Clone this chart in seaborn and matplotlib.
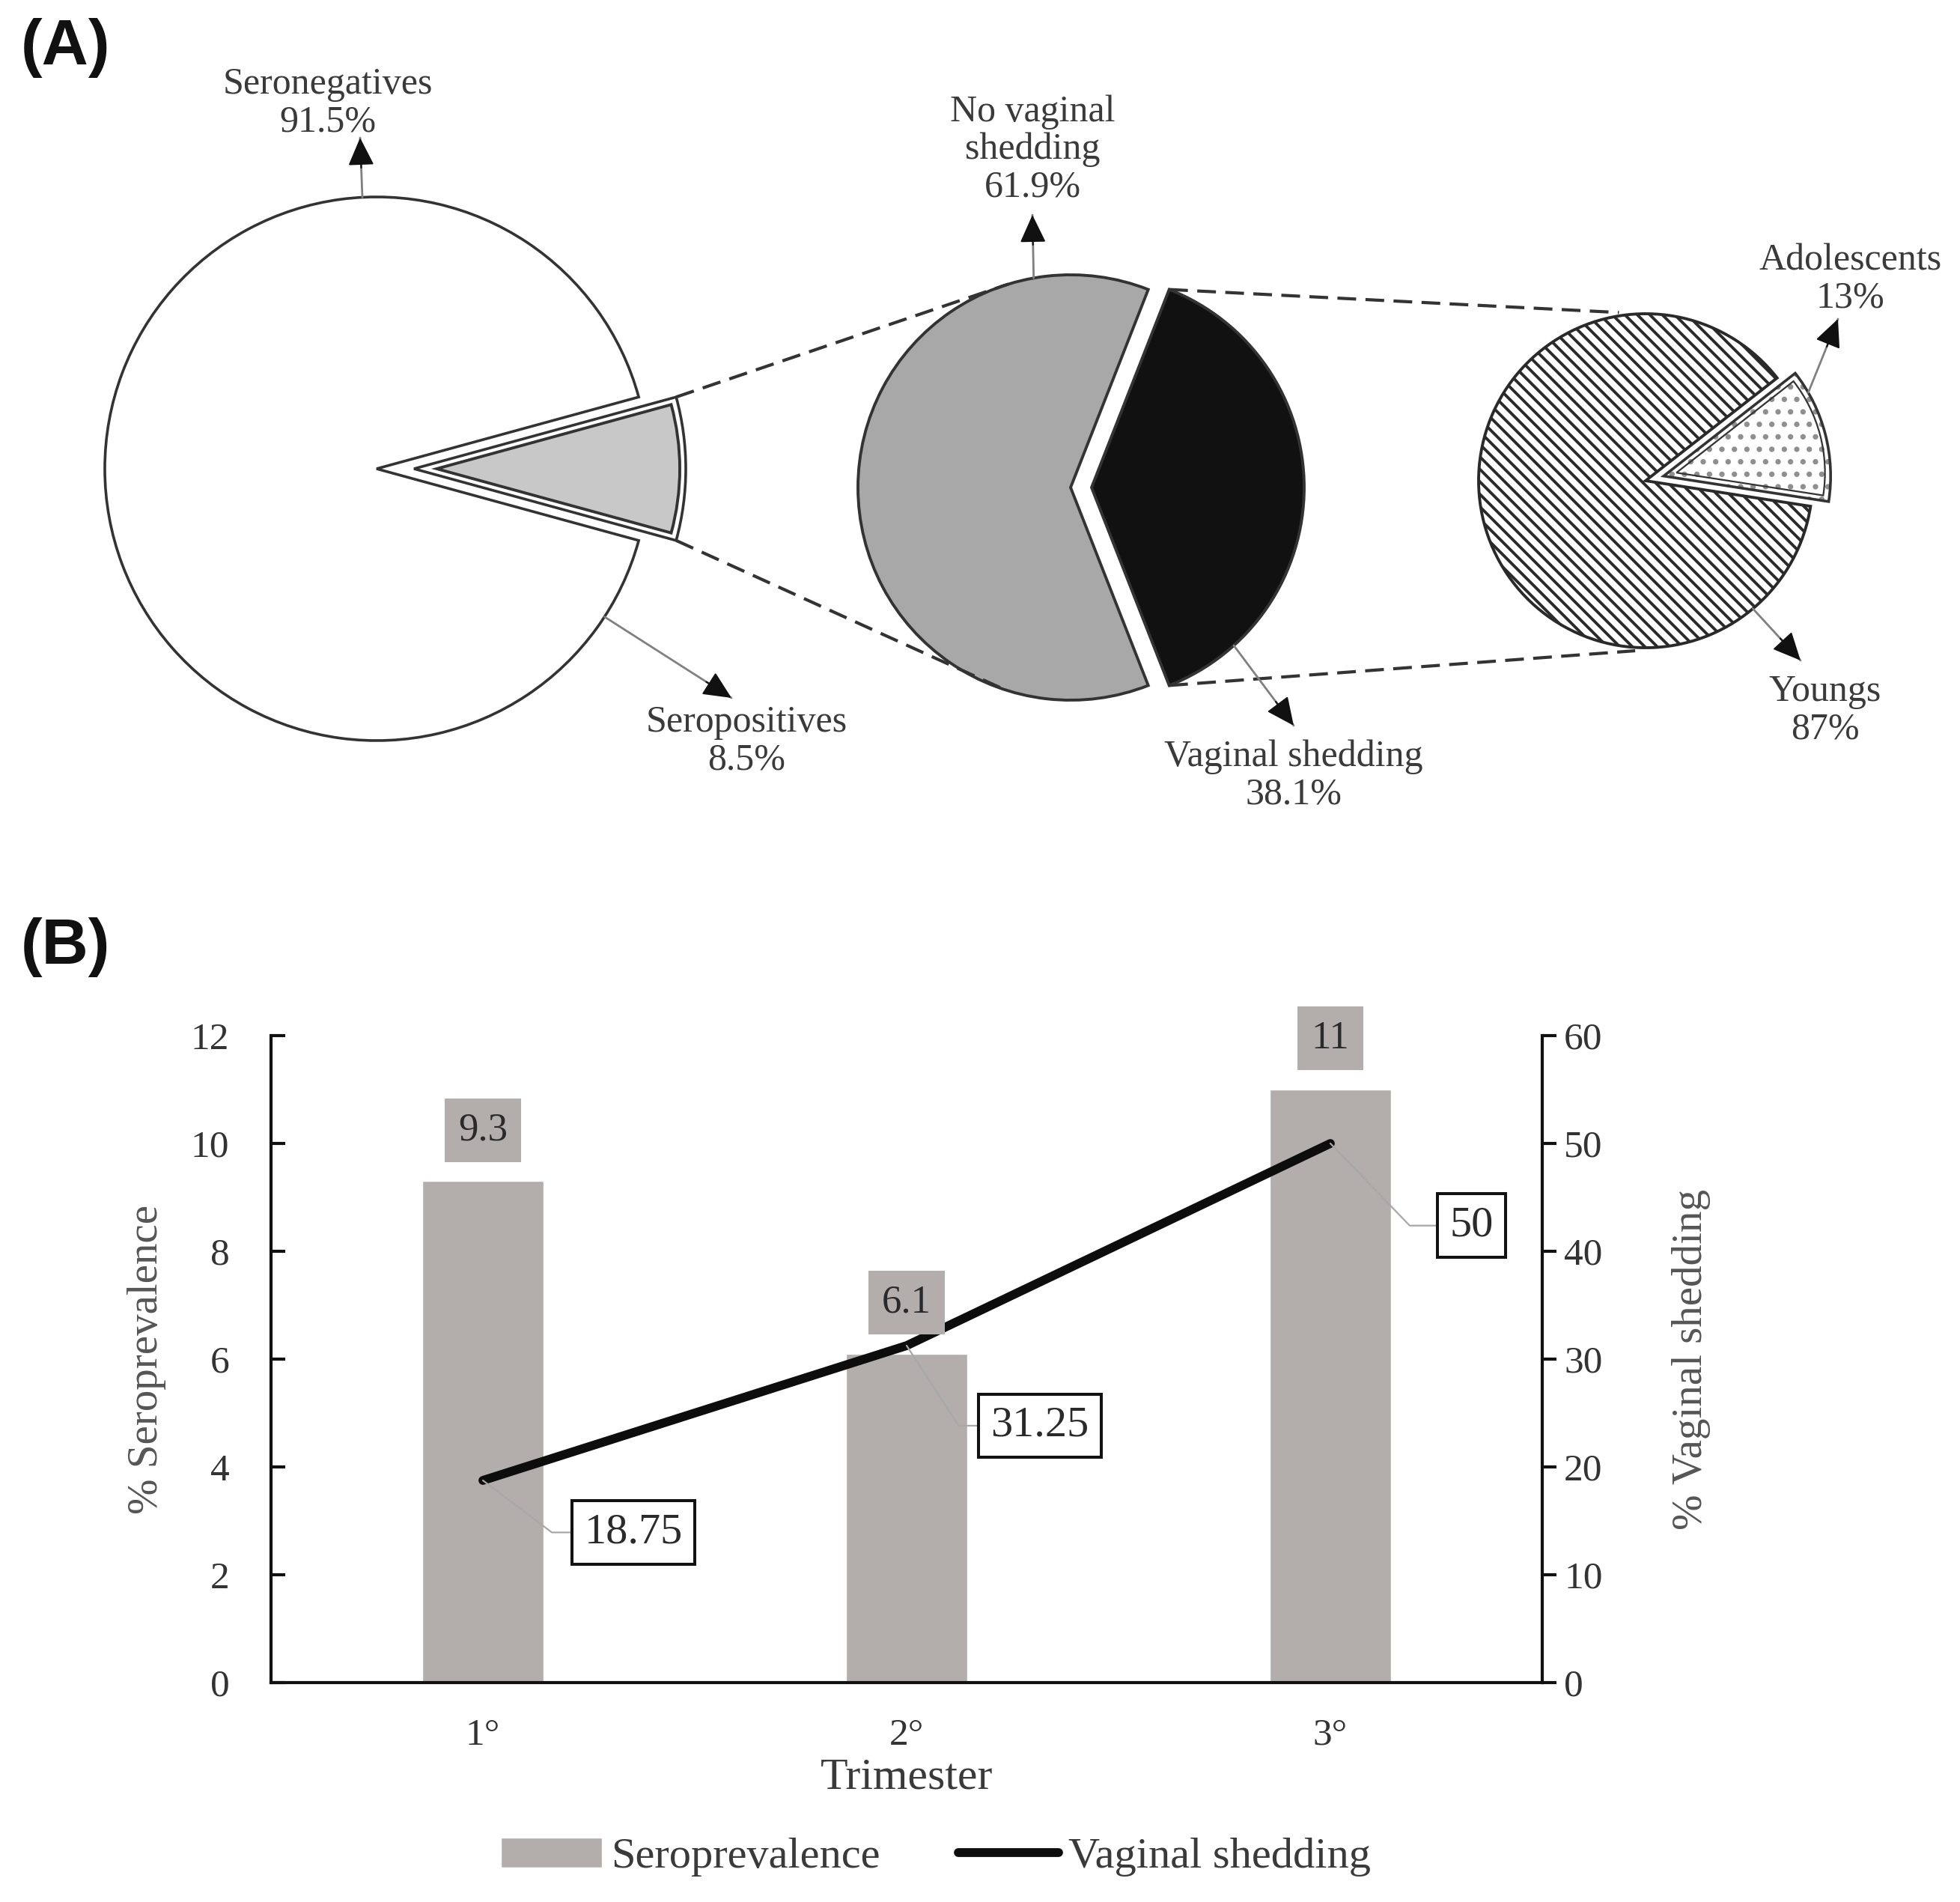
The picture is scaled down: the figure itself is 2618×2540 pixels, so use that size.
import numpy as np
import pandas as pd
import matplotlib
matplotlib.use("Agg")
import matplotlib.pyplot as plt
import seaborn as sns
from matplotlib.patches import Wedge

# ---------------- data ----------------
serostatus = ["Seronegatives", "Seropositives"]
serostatus_pct = [91.5, 8.5]
shedding_status = ["No vaginal\nshedding", "Vaginal shedding"]
shedding_pct = [61.9, 38.1]
age_groups = ["Youngs", "Adolescents"]
age_pct = [87, 13]
trimesters = ["1°", "2°", "3°"]
seroprevalence = [9.3, 6.1, 11]
vaginal_shedding = [18.75, 31.25, 50]

# ---------------- style ----------------
sns.set_theme(style="white")
plt.rcParams["font.family"] = ["Liberation Serif", "DejaVu Serif"]
plt.rcParams["hatch.linewidth"] = 2.8

W, H = 2618, 2540
fig = plt.figure(figsize=(W / 100, H / 100), dpi=100, facecolor="white")
axA = fig.add_axes([0, 0, 1, 1])


def Y(y):
    return H - y


EDGE = "#333333"
TXT = "#3a3a3a"
BAR = "#b3aeac"


def pt(w, ang, rscale=1.0):
    a = np.deg2rad(ang)
    cx, cy = w.center
    return (cx + w.r * rscale * np.cos(a), cy + w.r * rscale * np.sin(a))


def inner_wedge(w, g, **kw):
    half = np.deg2rad((w.theta2 - w.theta1) / 2)
    mid = np.deg2rad((w.theta1 + w.theta2) / 2)
    shift = g / np.sin(half)
    cx, cy = w.center
    c = (cx + shift * np.cos(mid), cy + shift * np.sin(mid))
    return Wedge(c, w.r - g - shift, w.theta1, w.theta2, **kw)


# ---------------- panel A: pies ----------------
# (explode is in data units = pixels here)
w1, _ = axA.pie(serostatus_pct, colors=["white", "white"],
                startangle=180 * serostatus_pct[1] / 100,
                explode=[0, 50], center=(503, Y(626)), radius=363,
                wedgeprops=dict(edgecolor=EDGE, linewidth=2.6))
axA.add_patch(inner_wedge(w1[1], 8, facecolor="#c8c8c8", edgecolor=EDGE, linewidth=2.8))

w2, _ = axA.pie(shedding_pct, colors=["#a8a8a8", "#111111"],
                startangle=180 * shedding_pct[1] / 100,
                explode=[0, 28], center=(1430, Y(651)), radius=284,
                wedgeprops=dict(edgecolor=EDGE, linewidth=2.8))

w3, _ = axA.pie(age_pct, colors=["white", "white"], startangle=38,
                explode=[0, 25], center=(2198, Y(642)), radius=223,
                wedgeprops=dict(edgecolor="#2a2a2a", linewidth=2.8))
w3[0].set_hatch("\\\\")
w3[1].set_edgecolor("#8f8f8f")
w3[1].set_linewidth(0)
w3[1].set_hatch(".")
axA.add_patch(Wedge(w3[1].center, w3[1].r, w3[1].theta1, w3[1].theta2,
                    fill=False, edgecolor=EDGE, linewidth=2.6))
axA.add_patch(inner_wedge(w3[1], 7, fill=False, edgecolor=EDGE, linewidth=1.6))

# dashed connectors (drawn over the pies, as in the source figure)
dash = dict(color=EDGE, lw=3.0, ls=(0, (6, 3)), zorder=3)
for a, b in [
    (pt(w1[1], w1[1].theta2), pt(w2[0], 107)),
    (pt(w1[1], w1[1].theta1), pt(w2[0], 252)),
    (pt(w2[1], w2[1].theta2), pt(w3[0], 99, 1.02)),
    (pt(w2[1], w2[1].theta1), pt(w3[0], -93.5, 1.02)),
]:
    axA.plot([a[0], b[0]], [a[1], b[1]], **dash)


def label_arrow(start, tip):
    tip = (tip[0], Y(tip[1]))
    axA.annotate("", xy=tip, xytext=start,
                 arrowprops=dict(arrowstyle="-", color="#808080", lw=2.0,
                                 shrinkA=0, shrinkB=0))
    d = np.array(tip) - np.array(start)
    d = d / np.hypot(*d)
    axA.annotate("", xy=tip, xytext=tuple(np.array(tip) - 40 * d),
                 arrowprops=dict(arrowstyle="-|>,head_length=0.9,head_width=0.42",
                                 mutation_scale=26, color="#111111", lw=1.5,
                                 shrinkA=0, shrinkB=0))


pie_fs = 36
label_specs = [
    (f"{serostatus[0]}\n{serostatus_pct[0]:g}%", (438, 138), pt(w1[0], 93), (481, 184)),
    (f"{serostatus[1]}\n{serostatus_pct[1]:g}%", (997, 990), pt(w1[0], -33), (977, 932)),
    (f"{shedding_status[0]}\n{shedding_pct[0]:g}%", (1379, 200), pt(w2[0], 100), (1379, 287)),
    (f"{shedding_status[1]}\n{shedding_pct[1]:g}%", (1728, 1036), pt(w2[1], -48), (1728, 969)),
    (f"{age_groups[1]}\n{age_pct[1]:g}%", (2472, 373), pt(w3[1], 30), (2455, 426)),
    (f"{age_groups[0]}\n{age_pct[0]:g}%", (2438, 949), pt(w3[0], -50), (2405, 882)),
]
for txt, (tx, ty), start, tip in label_specs:
    axA.text(tx, Y(ty), txt, ha="center", va="center", fontsize=pie_fs,
             color=TXT, linespacing=1.1)
    label_arrow(start, tip)

axA.set_xlim(0, W)
axA.set_ylim(0, H)
axA.set_axis_off()

fig.text(28 / W, 1 - 64 / H, "(A)", fontsize=62, fontweight="bold",
         family="Liberation Sans", ha="left", va="center", color="#111111")
fig.text(28 / W, 1 - 1265 / H, "(B)", fontsize=62, fontweight="bold",
         family="Liberation Sans", ha="left", va="center", color="#111111")

# ---------------- panel B ----------------
df = pd.DataFrame({"Trimester": trimesters,
                   "Seroprevalence": seroprevalence,
                   "Vaginal shedding": vaginal_shedding})

axB = fig.add_axes([362 / W, 1 - 2247 / H, (2060 - 362) / W, (2247 - 1383) / H])
sns.barplot(data=df, x="Trimester", y="Seroprevalence", color=BAR,
            saturation=1, width=0.285, ax=axB)
ax2 = axB.twinx()
sns.lineplot(data=df, x="Trimester", y="Vaginal shedding", ax=ax2,
             color="#0d0d0d", lw=8.5, sort=False, legend=False,
             solid_capstyle="round")

axB.set_xlim(-0.5, 2.5)
axB.set_ylim(0, 12)
ax2.set_ylim(0, 60)
axB.set_yticks(np.arange(0, 13, 2))
ax2.set_yticks(np.arange(0, 61, 10))

for ax in (axB, ax2):
    for s in ax.spines.values():
        s.set_visible(False)
for ax, side in [(axB, "left"), (axB, "bottom"), (ax2, "right")]:
    ax.spines[side].set_visible(True)
    ax.spines[side].set_color("#111111")
    ax.spines[side].set_linewidth(3)

axB.tick_params(axis="y", left=True, direction="in", length=14, width=3,
                pad=40, labelsize=37, color="#111111", labelcolor="#333333")
axB.tick_params(axis="x", bottom=False, length=0, pad=34, labelsize=37,
                labelcolor="#333333")
ax2.tick_params(axis="y", right=True, direction="out", length=14, width=3,
                pad=7, labelsize=37, color="#111111", labelcolor="#333333")

axB.set_xlabel("Trimester", fontsize=43, color=TXT)
axB.set_ylabel("% Seroprevalence", fontsize=41, color="#555555")
ax2.set_ylabel("% Vaginal shedding", fontsize=41, color="#555555")
axB.xaxis.set_label_coords(0.5, -0.116)
axB.yaxis.set_label_coords(-0.0825, 0.5)
ax2.yaxis.set_label_coords(1.102, 0.5)

# bar value labels (drawn on top axes so they sit over the line)
for i, v in enumerate(seroprevalence):
    ax2.annotate(f"{v:g}", xy=(i, v), xycoords=axB.transData,
                 xytext=(0, 49), textcoords="offset points",
                 ha="center", va="center", fontsize=38, color="#2a2a2a",
                 bbox=dict(boxstyle="square,pad=0.35", fc=BAR, ec="none"),
                 zorder=6)

# line value labels with leaders
label_offsets = [(145, -50), (128, -77), (136, -79)]
leader_angles = [-37, -57, -46]
for i, v in enumerate(vaginal_shedding):
    ax2.annotate(f"{v:g}", xy=(i, v), xycoords=ax2.transData,
                 xytext=label_offsets[i], textcoords="offset points",
                 ha="center", va="center", fontsize=42, color="#2a2a2a",
                 bbox=dict(boxstyle="square,pad=0.28", fc="white", ec="#111111", lw=2.9),
                 arrowprops=dict(arrowstyle="-", color="#a8a8a8", lw=1.6,
                                 shrinkA=0, shrinkB=0,
                                 connectionstyle=f"angle,angleA=0,angleB={leader_angles[i]}"),
                 zorder=6)

if axB.get_legend() is not None:
    axB.get_legend().remove()
fig.legend(handles=[axB.patches[0], ax2.lines[0]],
           labels=["Seroprevalence", "Vaginal shedding"],
           loc="center", bbox_to_anchor=(0.4775, 1 - 2480 / H), ncol=2,
           frameon=False, fontsize=42, handlelength=2.3, handleheight=0.67,
           handletextpad=0.22, columnspacing=1.78, labelcolor=TXT, borderpad=0)

fig.savefig("out.png", dpi=100, facecolor="white")
